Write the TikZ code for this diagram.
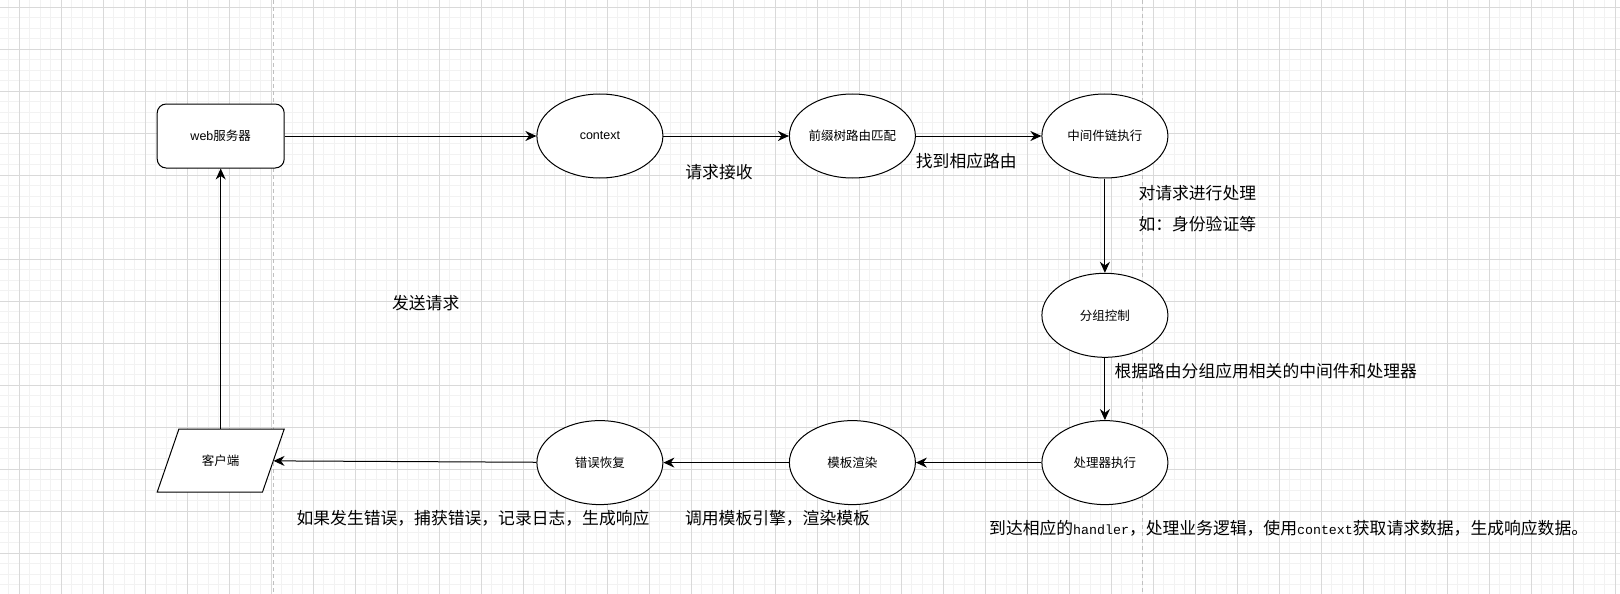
\documentclass[tikz,border=0pt]{standalone}
\usepackage{fontspec}
\setmainfont{Noto Sans CJK SC}
\newfontfamily\arialfont{Liberation Sans}
\newfontfamily\courierfont{Liberation Mono}
\usetikzlibrary{arrows.meta, positioning, shapes.geometric}
\definecolor{gridminor}{HTML}{F2F2F2}
\definecolor{gridmajor}{HTML}{D9D9D9}
\definecolor{pagebreak}{HTML}{C0C0C0}
\newcommand{\boxtext}{\fontsize{12.5}{15}\selectfont}
\newcommand{\annotext}{\fontsize{16.8}{20}\selectfont}
\newcommand{\ident}[1]{{\courierfont\fontsize{13.3}{16}\selectfont #1}}

\begin{document}
\begin{tikzpicture}[
    x=1pt, y=1pt,
    % --- block styles ---
    proc/.style={
      draw, ellipse, fill=white, line width=1pt,
      minimum width=126pt, minimum height=84pt,
      inner sep=0pt, font=\boxtext},
    server/.style={
      draw, rectangle, rounded corners=9pt, fill=white,
      line width=1pt, minimum width=127pt, minimum height=64pt,
      font=\boxtext},
    client/.style={
      rectangle, inner sep=0pt,
      minimum width=105.3pt, minimum height=63pt, font=\boxtext},
    anno/.style={font=\annotext, inner sep=0pt},
    arr/.style={-{Stealth[length=11pt, width=10pt]}, line width=1pt},
  ]

  % ── Background grid ──
  \fill[white] (0,0) rectangle (1620,-594);
  \useasboundingbox (0,0) rectangle (1620,-594);
  \foreach \k in {0,...,153}
    \draw[gridminor, line width=1pt] ({8.75+10.5*\k},0) -- ++(0,-594);
  \foreach \k in {0,...,55}
    \draw[gridminor, line width=1pt] (0,{-7.25-10.5*\k}) -- ++(1620,0);
  \foreach \k in {0,...,38}
    \draw[gridmajor, line width=1pt] ({19.25+42*\k},0) -- ++(0,-594);
  \foreach \k in {0,...,13}
    \draw[gridmajor, line width=1pt] (0,{-7.25-42*\k}) -- ++(1620,0);
  \foreach \px in {273.3, 1142.3}
    \draw[pagebreak, line width=1.2pt, dash pattern=on 4pt off 3pt]
      (\px,0) -- (\px,-594);

  % ── Request path (top row and right column) ──
  \node[server] (web) at (220.7,-136) {{\arialfont web}服务器};
  \node[proc, right=251.7pt of web]  (ctx)     {{\arialfont context}};
  \node[proc, right=125.5pt of ctx]  (trie)    {前缀树路由匹配};
  \node[proc, right=125.5pt of trie] (mw)      {中间件链执行};
  \node[proc, below=94.3pt of mw]    (group)   {分组控制};
  \node[proc, below=62.3pt of group] (handler) {处理器执行};

  % ── Response path (bottom row) ──
  \node[proc, left=125.5pt of handler] (tpl)     {模板渲染};
  \node[proc, left=125.5pt of tpl]     (recover) {错误恢复};
  % parallelogram outline, then the client node on top of it
  \draw[line width=1pt, fill=white, shift={(220.7,-460.6)}]
    (-63.5,-31.5) -- (41.8,-31.5) -- (63.5,31.5) -- (-41.8,31.5) -- cycle;
  \node[client] (cli) at (220.7,-460.6) {客户端};

  % ── Flow arrows ──
  \draw[arr] (web) -- (ctx);
  \draw[arr] (ctx) -- (trie);
  \draw[arr] (trie) -- (mw);
  \draw[arr] (mw) -- (group);
  \draw[arr] (group) -- (handler);
  \draw[arr] (handler) -- (tpl);
  \draw[arr] (tpl) -- (recover);
  \draw[arr] (recover) -- (cli);
  \draw[arr] (cli) -- (web);

  % ── Annotations ──
  \node[anno] (recv)  at (719,-172)   {请求接收};
  \node[anno] (found) at (966.3,-161) {找到相应路由};
  \node[anno, anchor=west] (mwnote) at (1138.3,-193.3) {对请求进行处理};
  \node[anno, anchor=west] (mweg)   at (1138.3,-224)   {如：身份验证等};
  \node[anno] (send) at (425.7,-303.3) {发送请求};
  \node[anno, anchor=west] (groupnote) at (1114.3,-371)
    {根据路由分组应用相关的中间件和处理器};
  \node[anno, anchor=west] (recovernote) at (296.4,-518)
    {如果发生错误，捕获错误，记录日志，生成响应};
  \node[anno] (tplnote) at (777.5,-518) {调用模板引擎，渲染模板};
  \node[anno, anchor=west] (handlernote) at (989,-528)
    {到达相应的\ident{handler}，处理业务逻辑，使用\ident{context}获取请求数据，生成响应数据。};

\end{tikzpicture}
\end{document}
